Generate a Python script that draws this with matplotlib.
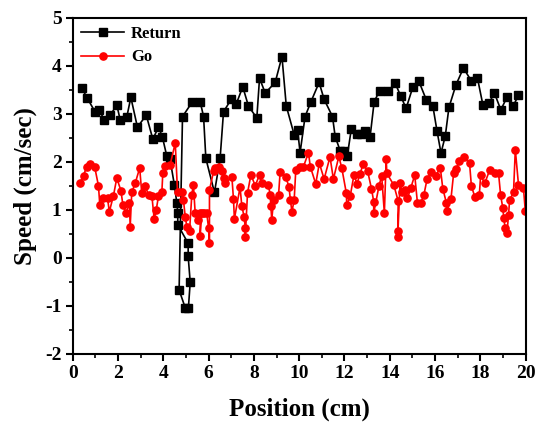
import matplotlib
matplotlib.use("Agg")
import matplotlib.pyplot as plt
from matplotlib.ticker import MultipleLocator

plt.rcParams['font.family'] = ['Liberation Serif', 'DejaVu Serif']
plt.rcParams['font.weight'] = 'bold'
plt.rcParams['axes.unicode_minus'] = False

# Return (black squares): position (cm), speed (cm/sec)
return_x = [0.41, 0.65, 0.99, 1.18, 1.39, 1.66, 1.95, 2.10, 2.39, 2.57, 2.86, 3.25,
            3.54, 3.79, 3.96, 4.16, 4.30, 4.49, 4.60, 4.64, 4.64, 5.10, 5.10, 5.19,
            5.11, 4.97, 4.70, 4.85, 5.29, 5.63, 5.78, 5.88, 6.26, 6.51, 6.66, 7.00,
            7.22, 7.51, 7.76, 8.13, 8.25, 8.50, 8.94, 9.24, 9.43, 9.78, 9.93, 10.04,
            10.26, 10.52, 10.88, 11.10, 11.47, 11.59, 11.81, 11.96, 12.12, 12.30,
            12.55, 12.72, 12.91, 13.13, 13.31, 13.55, 13.94, 14.24, 14.49, 14.72,
            15.02, 15.27, 15.61, 15.90, 16.08, 16.26, 16.45, 16.61, 16.92, 17.25,
            17.59, 17.87, 18.11, 18.40, 18.61, 18.90, 19.17, 19.44, 19.68]
return_y = [3.53, 3.32, 3.04, 3.08, 2.87, 2.97, 3.18, 2.87, 2.93, 3.34, 2.72, 2.97,
            2.47, 2.72, 2.52, 2.11, 2.05, 1.52, 1.14, 0.94, 0.69, 0.30, 0.03, -0.51,
            -1.04, -1.04, -0.67, 2.94, 3.25, 3.25, 2.94, 2.07, 1.36, 2.07, 3.04, 3.30,
            3.20, 3.56, 3.16, 2.91, 3.74, 3.43, 3.65, 4.19, 3.16, 2.56, 2.66, 2.19,
            2.94, 3.25, 3.65, 3.30, 2.94, 2.52, 2.23, 2.23, 2.11, 2.68,
            2.58, 2.58, 2.63, 2.52, 3.25, 3.48, 3.48, 3.63, 3.36, 3.11,
            3.56, 3.69, 3.29, 3.16, 2.65, 2.18, 2.54, 3.13, 3.60, 3.95,
            3.69, 3.74, 3.18, 3.23, 3.44, 3.08, 3.34, 3.15, 3.39]

# Go (red circles)
go_x = [0.32, 0.48, 0.62, 0.77, 0.97, 1.14, 1.20, 1.36, 1.54, 1.62, 1.80, 1.95,
        2.13, 2.22, 2.36, 2.51, 2.54, 2.61, 2.76, 2.96, 3.05, 3.20, 3.35, 3.50,
        3.60, 3.69, 3.79, 3.94, 3.98, 4.08, 4.30, 4.53, 4.63, 4.82, 4.89, 4.97,
        5.04, 5.16, 5.26, 5.33, 5.41, 5.55, 5.63, 5.63, 5.70, 5.78, 5.92, 6.00,
        6.04, 6.04, 6.22, 6.29, 6.44, 6.59, 6.66, 6.73, 7.03, 7.10, 7.14, 7.39,
        7.47, 7.57, 7.62, 7.62, 7.72, 7.87, 8.06, 8.25, 8.35, 8.64, 8.72, 8.75,
        8.79, 8.87, 9.09, 9.16, 9.40, 9.55, 9.61, 9.68, 9.78, 9.85, 10.04, 10.19,
        10.41, 10.49, 10.73, 10.89, 11.10, 11.36, 11.51, 11.75, 11.88, 12.08,
        12.10, 12.25, 12.42, 12.55, 12.68, 12.82, 13.02, 13.19, 13.29, 13.29,
        13.52, 13.64, 13.76, 13.84, 13.87, 14.18, 14.37, 14.35, 14.35, 14.45,
        14.55, 14.68, 14.78, 14.93, 15.10, 15.22, 15.37, 15.50, 15.65, 15.84,
        16.02, 16.23, 16.34, 16.50, 16.52, 16.70, 16.82, 16.94, 17.07, 17.28,
        17.52, 17.60, 17.75, 17.95, 18.01, 18.19, 18.41, 18.65, 18.80, 18.89,
        18.99, 19.03, 19.09, 19.17, 19.24, 19.29, 19.46, 19.54, 19.68, 19.90, 19.98]
go_y = [1.55, 1.71, 1.90, 1.96, 1.90, 1.50, 1.10, 1.24, 1.24, 0.96, 1.29, 1.66,
        1.40, 1.10, 0.93, 1.14, 0.64, 1.36, 1.55, 1.87, 1.35, 1.50, 1.31, 1.28,
        0.81, 1.00, 1.28, 1.38, 1.76, 1.92, 1.93, 2.39, 1.37, 1.37, 1.21, 0.86,
        0.65, 0.55, 1.31, 1.52, 0.93, 0.79, 0.93, 0.46, 0.93, 0.93, 0.93, 0.62,
        0.31, 1.41, 1.80, 1.87, 1.89, 1.80, 1.66, 1.55, 1.68, 1.22, 0.81, 1.47,
        1.07, 0.86, 0.62, 0.44, 1.35, 1.73, 1.50, 1.73, 1.55, 1.52, 1.31, 1.07,
        0.79, 1.21, 1.31, 1.79, 1.69, 1.48, 1.21, 0.96, 1.21, 1.83, 1.90, 1.90,
        2.19, 1.90, 1.54, 1.97, 1.64, 2.10, 1.64, 2.11, 1.87, 1.35,
        1.10, 1.28, 1.73, 1.54, 1.74, 1.95, 1.81, 1.44, 1.17, 0.93,
        1.49, 1.71, 0.93, 2.06, 1.76, 1.51, 1.18, 0.56, 0.44, 1.55,
        1.36, 1.42, 1.24, 1.46, 1.72, 1.14, 1.14, 1.30, 1.65, 1.78,
        1.71, 1.87, 1.44, 1.14, 0.98, 1.23, 1.77, 1.85, 2.02, 2.09,
        1.97, 1.50, 1.27, 1.30, 1.72, 1.55, 1.83, 1.77, 1.76, 1.31,
        1.03, 0.83, 0.62, 0.51, 0.89, 1.21, 1.36, 2.25, 1.52, 1.45, 0.98]

fig = plt.figure(figsize=(5.42, 4.30), dpi=100)
ax = fig.add_axes([0.134, 0.177, 0.836, 0.782])

ax.plot(return_x, return_y, '-s', color='black', lw=1.2, ms=5.2, label='Return')
ax.plot(go_x, go_y, '-o', color='red', lw=1.2, ms=5.2, label='Go')

ax.set_xlim(0, 20)
ax.set_ylim(-2, 5)
ax.xaxis.set_major_locator(MultipleLocator(2))
ax.xaxis.set_minor_locator(MultipleLocator(1))
ax.yaxis.set_major_locator(MultipleLocator(1))
ax.yaxis.set_minor_locator(MultipleLocator(0.5))
ax.tick_params(which='major', direction='out', length=5, width=1.5, labelsize=14, pad=3)
ax.tick_params(which='minor', direction='out', length=3, width=1.2)
for s in ax.spines.values():
    s.set_linewidth(1.5)

ax.set_xlabel('Position (cm)', fontsize=18, fontweight='bold', labelpad=11)
ax.set_ylabel('Speed (cm/sec)', fontsize=18, fontweight='bold', labelpad=6)

ax.legend(loc='upper left', frameon=False, handlelength=2.6,
          borderaxespad=0.1, labelspacing=0.45, handletextpad=0.4,
          prop={'weight': 'bold', 'size': 12})

fig.savefig('out.png', dpi=100)
